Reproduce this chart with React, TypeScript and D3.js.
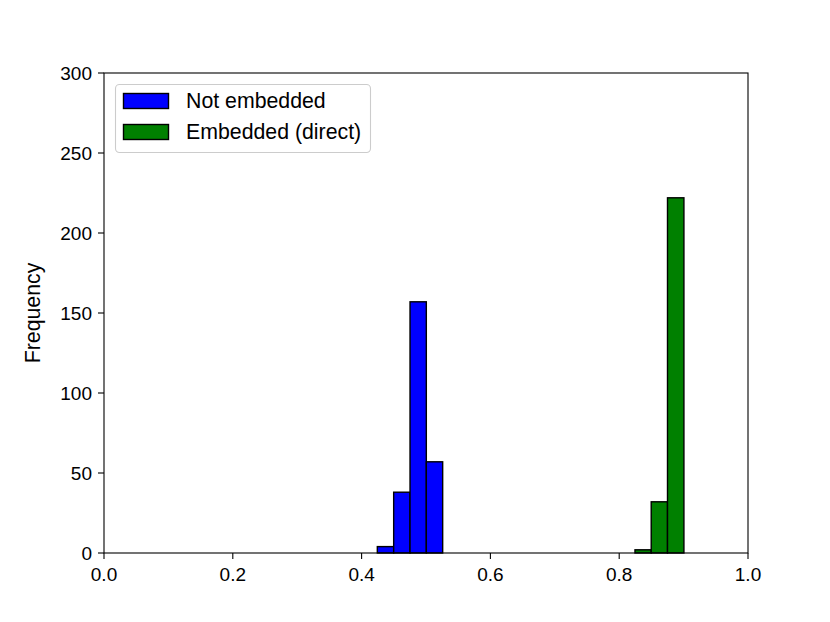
import React from "react";
import * as d3 from "d3";

const notEmbeddedEdges = [0.4244, 0.4498, 0.4752, 0.5005, 0.5259];
const notEmbeddedCounts = [4, 38, 157, 57];
const embeddedEdges = [0.8245, 0.8497, 0.875, 0.9005];
const embeddedCounts = [2, 32, 222];
const xTicks = [0.0, 0.2, 0.4, 0.6, 0.8, 1.0];
const yTicks = [0, 50, 100, 150, 200, 250, 300];
const seriesNames = ["Not embedded", "Embedded (direct)"];
const seriesColors = ["#0000ff", "#008000"];

const W = 830, H = 622;
const left = 104, right = 748, top = 73, bottom = 553;
const FONT = "'Liberation Sans', Arial, Helvetica, sans-serif";
const FS = 19;
const FS_BIG = 21.3;

export default function App() {
  const x = d3.scaleLinear().domain([0, 1]).range([left, right]);
  const y = d3.scaleLinear().domain([0, 300]).range([bottom, top]);
  const series = [
    { edges: notEmbeddedEdges, counts: notEmbeddedCounts, color: seriesColors[0] },
    { edges: embeddedEdges, counts: embeddedCounts, color: seriesColors[1] },
  ];
  return (
    <svg width={W} height={H} style={{ position: "absolute", left: 0, top: 0 }} fontFamily={FONT}>
      <rect width={W} height={H} fill="white" />
      {series.map((s, si) =>
        s.counts.map((c, i) => (
          <rect
            key={`${si}-${i}`}
            x={x(s.edges[i])}
            y={y(c)}
            width={x(s.edges[i + 1]) - x(s.edges[i])}
            height={y(0) - y(c)}
            fill={s.color}
            stroke="black"
            strokeWidth={1.4}
          />
        ))
      )}
      <rect x={left} y={top} width={right - left} height={bottom - top} fill="none" stroke="black" strokeWidth={1.1} />
      {xTicks.map((t) => (
        <g key={`x${t}`}>
          <line x1={x(t)} x2={x(t)} y1={bottom} y2={bottom + 6} stroke="black" strokeWidth={1.1} />
          <text x={x(t)} y={bottom + 28} textAnchor="middle" fontSize={FS}>{t.toFixed(1)}</text>
        </g>
      ))}
      {yTicks.map((t) => (
        <g key={`y${t}`}>
          <line x1={left - 6} x2={left} y1={y(t)} y2={y(t)} stroke="black" strokeWidth={1.1} />
          <text x={left - 12} y={y(t)} dy="0.35em" textAnchor="end" fontSize={FS}>{t}</text>
        </g>
      ))}
      <text transform={`translate(40,${(top + bottom) / 2}) rotate(-90)`} textAnchor="middle" fontSize={FS_BIG}>Frequency</text>
      <rect x={115.5} y={84.5} width={255} height={68} rx={4} fill="white" fillOpacity={0.8} stroke="#cccccc" strokeWidth={1.1} />
      {seriesNames.map((n, i) => (
        <g key={n}>
          <rect x={123.5} y={93.5 + i * 31} width={45} height={15} fill={seriesColors[i]} stroke="black" strokeWidth={1.4} />
          <text x={186} y={100.5 + i * 31} dy="0.35em" fontSize={FS_BIG}>{n}</text>
        </g>
      ))}
    </svg>
  );
}
